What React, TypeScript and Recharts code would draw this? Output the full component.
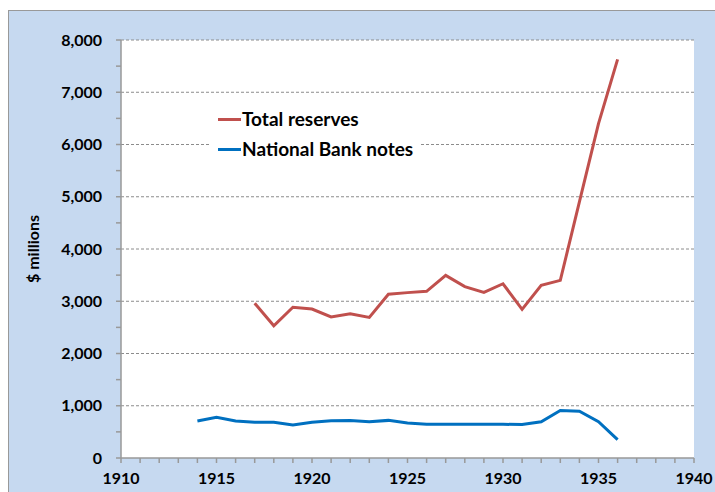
import React from "react";
import {
  LineChart,
  Line,
  XAxis,
  YAxis,
  CartesianGrid,
  Label,
} from "recharts";

// ── Data ──────────────────────────────────────────────────────────
const years = [
  1914, 1915, 1916, 1917, 1918, 1919, 1920, 1921, 1922, 1923, 1924, 1925,
  1926, 1927, 1928, 1929, 1930, 1931, 1932, 1933, 1934, 1935, 1936,
];
const totalReserves = [
  null, null, null, 2960, 2530, 2885, 2850, 2700, 2760, 2690, 3135, 3165,
  3190, 3495, 3280, 3170, 3335, 2845, 3305, 3400, 4900, 6400, 7630,
];
const nationalBankNotes = [
  710, 780, 710, 685, 685, 630, 685, 715, 720, 695, 720, 670,
  645, 645, 645, 645, 645, 640, 695, 910, 895, 695, 350,
];
const xTicks = [
  1910, 1911, 1912, 1913, 1914, 1915, 1916, 1917, 1918, 1919, 1920, 1921,
  1922, 1923, 1924, 1925, 1926, 1927, 1928, 1929, 1930, 1931, 1932, 1933,
  1934, 1935, 1936, 1937, 1938, 1939, 1940,
];
const yTicks = [
  0, 500, 1000, 1500, 2000, 2500, 3000, 3500, 4000, 4500, 5000, 5500, 6000,
  6500, 7000, 7500, 8000,
];
const gridValues = [1000, 2000, 3000, 4000, 5000, 6000, 7000, 8000];

const series = [
  { key: "reserves", name: "Total reserves", color: "#C0504D" },
  { key: "notes", name: "National Bank notes", color: "#0070C0" },
];

const data = years.map((year, i) => ({
  year,
  reserves: totalReserves[i],
  notes: nationalBankNotes[i],
}));

const FONT = "Lato, 'Open Sans', sans-serif";
const tickStyle = { fontSize: 16, fontWeight: 700, fill: "#000", fontFamily: FONT };

// ── Legend inside the plot (HTML overlay so it takes no chart space) ──
function InsetLegend() {
  return (
    <div
      style={{
        position: "absolute",
        left: 202,
        top: 91,
        background: "#fff",
        padding: "2px 6px 2px 7px",
        fontFamily: FONT,
        fontWeight: 700,
        fontSize: 19,
        color: "#000",
        lineHeight: "30px",
      }}
    >
      {series.map((s) => (
        <div key={s.key} style={{ display: "flex", alignItems: "center", height: 30 }}>
          <span style={{ width: 23, height: 3, background: s.color, marginRight: 1 }} />
          <span>{s.name}</span>
        </div>
      ))}
    </div>
  );
}

export default function App() {
  return (
    <>
      <style>{"body{margin:0;overflow:hidden;}"}</style>
      <div
        style={{
          position: "absolute",
          left: 8,
          top: 10,
          width: 707,
          height: 482,
          background: "#C6D9F0",
          borderTop: "1px solid #999",
          borderLeft: "1px solid #999",
          overflow: "hidden",
        }}
      >
        <LineChart
          width={706}
          height={481}
          data={data}
          margin={{ top: 29, right: 21, left: 52, bottom: 0 }}
        >
          <CartesianGrid
            fill="#fff"
            vertical={false}
            horizontalValues={gridValues}
            stroke="#8c8c8c"
            strokeDasharray="3 2"
          />
          <XAxis
            dataKey="year"
            type="number"
            domain={[1910, 1940]}
            ticks={xTicks}
            interval={0}
            height={34}
            tickSize={5}
            tickMargin={10}
            tick={tickStyle}
            tickFormatter={(v: number) => (v % 5 === 0 ? String(v) : "")}
            stroke="#999"
            strokeWidth={1.5}
          />
          <YAxis
            width={60}
            domain={[0, 8000]}
            ticks={yTicks}
            interval={0}
            tickSize={5}
            tickMargin={14}
            tick={tickStyle}
            tickFormatter={(v: number) => (v % 1000 === 0 ? v.toLocaleString("en-US") : "")}
            stroke="#999"
            strokeWidth={1.5}
          >
            <Label
              value="$ millions"
              angle={-90}
              position="insideLeft"
              offset={-28}
              style={{ fontSize: 16, fontWeight: 700, fill: "#000", fontFamily: FONT, textAnchor: "middle" }}
            />
          </YAxis>
          {series.map((s) => (
            <Line
              key={s.key}
              type="linear"
              dataKey={s.key}
              name={s.name}
              stroke={s.color}
              strokeWidth={3}
              dot={false}
              isAnimationActive={false}
            />
          ))}
        </LineChart>
        <InsetLegend />
      </div>
    </>
  );
}
